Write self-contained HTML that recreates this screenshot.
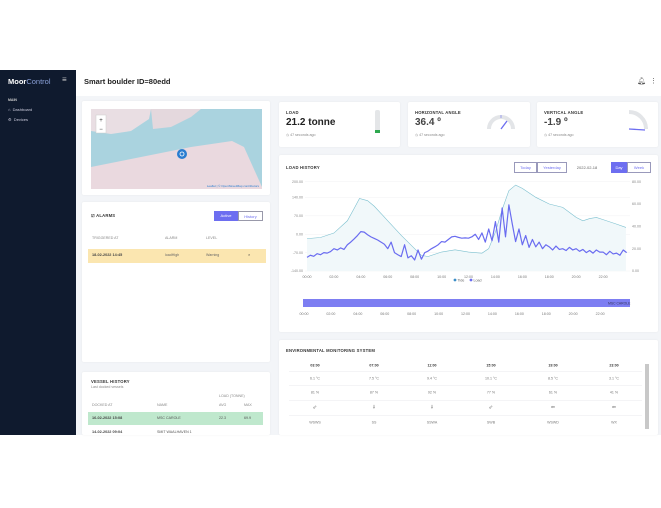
<!DOCTYPE html>
<html><head><meta charset="utf-8"><style>
*{box-sizing:border-box;margin:0;padding:0}
body{width:661px;height:508px;background:#fff;font-family:"Liberation Sans",sans-serif;position:relative;overflow:hidden;color:#222}
.a{position:absolute}
.card{position:absolute;background:#fff;border-radius:2px;box-shadow:0 0 2px rgba(0,0,0,.05)}
.t{position:absolute;font-size:4px;color:#444;white-space:nowrap}
.lbl{font-size:4.2px;font-weight:bold;color:#333;letter-spacing:.2px}
.sm{font-size:3.6px;color:#888}
#chart{z-index:5}
</style></head><body>
<div class="a" style="left:0;top:70px;width:661px;height:365px;background:#f3f5f8"></div>
<div class="a" style="left:0;top:70px;width:76px;height:365px;background:#0f1a2e">
 <div class="t" style="left:8px;top:7px;font-size:7.5px;color:#fff;font-weight:bold">Moor<span style="font-weight:normal;color:#8aa0d8">Control</span></div>
 <div class="t" style="left:62px;top:5px;font-size:8px;color:#ccc">≡</div>
 <div class="t" style="left:8px;top:28px;font-size:3.5px;color:#ccc;font-weight:bold">MAIN</div>
 <div class="t" style="left:8px;top:37px;font-size:4px;color:#ccd">⌂ &nbsp;Dashboard</div>
 <div class="t" style="left:8px;top:47px;font-size:4px;color:#ccd">⚙ &nbsp;Devices</div>
</div>
<div class="a" style="left:76px;top:70px;width:585px;height:26px;background:#fff">
 <div class="t" style="left:8px;top:7px;font-size:7.5px;color:#222;font-weight:bold">Smart boulder ID=80edd</div>
 <div class="t" style="left:561px;top:7px;font-size:7px;color:#555">🔔︎</div>
 <div class="t" style="left:574px;top:7px;font-size:7px;color:#555">⋮</div>
</div>

<div class="card" style="left:82px;top:101px;width:188px;height:94px">
 <svg class="a" style="left:9px;top:8px" width="171" height="80">
  <rect width="171" height="80" fill="#aad3df"/>
  <polygon points="0,0 60,0 58,10 40,22 20,25 0,22" fill="#e9dee3"/>
  <polygon points="60,0 110,0 100,8 80,18 62,20" fill="#e4d8dd"/>
  <polygon points="0,58 40,50 100,38 141,32 153,38 171,78 171,80 0,80" fill="#ead9df"/>
  <rect x="5" y="6" width="10" height="18" fill="#fff" stroke="#ccc" stroke-width=".5"/>
  <text x="10" y="13" font-size="6" text-anchor="middle" fill="#333">+</text>
  <text x="10" y="22" font-size="6" text-anchor="middle" fill="#333">−</text>
  <circle cx="91" cy="45" r="5" fill="#2a7dd0"/><circle cx="91" cy="45" r="2" fill="none" stroke="#fff" stroke-width=".8"/>
  <text x="168" y="78" font-size="3" text-anchor="end" fill="#2a7dd0">Leaflet | © OpenStreetMap contributors</text>
 </svg>
</div>

<div class="card" style="left:82px;top:202px;width:188px;height:160px">
 <div class="t lbl" style="left:9px;top:11px">☑ ALARMS</div>
 <div class="t" style="left:132px;top:9px;width:24px;height:10px;background:#6d6ef0;color:#fff;text-align:center;line-height:10px">Active</div>
 <div class="t" style="left:156px;top:9px;width:25px;height:10px;border:.6px solid #99a;color:#6d6ef0;text-align:center;line-height:9px">History</div>
 <div class="t sm" style="left:10px;top:34px">TRIGGERED AT</div>
 <div class="t sm" style="left:83px;top:34px">ALARM</div>
 <div class="t sm" style="left:124px;top:34px">LEVEL</div>
 <div class="a" style="left:6px;top:47px;width:178px;height:14px;background:#fbe6b0"></div>
 <div class="t" style="left:10px;top:51px;font-weight:bold;font-size:3.8px">18-02-2022 14:45</div>
 <div class="t" style="left:83px;top:51px;font-size:3.6px;color:#666">loadHigh</div>
 <div class="t" style="left:124px;top:51px;font-size:3.6px;color:#666">Warning</div>
 <div class="t" style="left:166px;top:50px;font-size:4px">×</div>
</div>

<div class="card" style="left:82px;top:372px;width:188px;height:63px">
 <div class="t lbl" style="left:9px;top:7px">VESSEL HISTORY</div>
 <div class="t sm" style="left:9px;top:13px">Last docked vessels</div>
 <div class="t sm" style="left:137px;top:22px">LOAD (TONNE)</div>
 <div class="t sm" style="left:10px;top:31px">DOCKED AT</div>
 <div class="t sm" style="left:75px;top:31px">NAME</div>
 <div class="t sm" style="left:137px;top:31px">AVG</div>
 <div class="t sm" style="left:162px;top:31px">MAX</div>
 <div class="a" style="left:6px;top:40px;width:175px;height:13px;background:#bfe8cd"></div>
 <div class="t" style="left:10px;top:44px;font-weight:bold;font-size:3.8px">16-02-2022 15:08</div>
 <div class="t" style="left:75px;top:44px;font-size:3.6px;color:#555">MSC CAROLE</div>
 <div class="t" style="left:137px;top:44px;font-size:3.6px;color:#555">22.3</div>
 <div class="t" style="left:162px;top:44px;font-size:3.6px;color:#555">69.9</div>
 <div class="t" style="left:10px;top:58px;font-weight:bold;font-size:3.8px">14-02-2022 09:04</div>
 <div class="t" style="left:75px;top:58px;font-size:3.6px;color:#555">SMIT WAALHAVEN 1</div>
</div>

<div class="card" style="left:279px;top:102px;width:121px;height:45px">
 <div class="t lbl" style="left:7px;top:8px">LOAD</div>
 <div class="t" style="left:7px;top:15px;font-size:10px;font-weight:bold;color:#222">21.2 tonne</div>
 <div class="t sm" style="left:7px;top:31px">◷ 47 seconds ago</div>
 <div class="a" style="left:96px;top:8px;width:5px;height:23px;background:#e4e6e8;border-radius:2px"><div class="a" style="left:0;bottom:0;width:5px;height:3px;background:#2fa84f"></div></div>
</div>
<div class="card" style="left:408px;top:102px;width:122px;height:45px">
 <div class="t lbl" style="left:7px;top:8px">HORIZONTAL ANGLE</div>
 <div class="t" style="left:7px;top:15px;font-size:10px;font-weight:bold">36.4 º</div>
 <div class="t sm" style="left:7px;top:31px">◷ 47 seconds ago</div>
 <svg class="a" style="left:78px;top:10px" width="30" height="20"><path d="M3,17 A12,12 0 0 1 27,17" fill="none" stroke="#e3e5e8" stroke-width="4"/><line x1="15" y1="17" x2="21" y2="9" stroke="#6d6ef0" stroke-width="1.3"/><line x1="15" y1="3" x2="15" y2="6" stroke="#6d6ef0" stroke-width=".6"/></svg>
</div>
<div class="card" style="left:537px;top:102px;width:121px;height:45px">
 <div class="t lbl" style="left:7px;top:8px">VERTICAL ANGLE</div>
 <div class="t" style="left:7px;top:15px;font-size:10px;font-weight:bold">-1.9 º</div>
 <div class="t sm" style="left:7px;top:31px">◷ 47 seconds ago</div>
 <svg class="a" style="left:88px;top:6px" width="28" height="28"><path d="M4,4 A17,17 0 0 1 21,21" fill="none" stroke="#e3e5e8" stroke-width="4"/><line x1="4" y1="21" x2="20" y2="22" stroke="#6d6ef0" stroke-width="1.3"/></svg>
</div>

<div class="card" style="left:279px;top:155px;width:379px;height:177px">
 <div class="t lbl" style="left:7px;top:10px">LOAD HISTORY</div>
 <div class="t" style="left:235px;top:7px;width:23px;height:11px;border:.6px solid #99b;color:#6d6ef0;text-align:center;line-height:10px">Today</div>
 <div class="t" style="left:258px;top:7px;width:30px;height:11px;border:.6px solid #99b;color:#6d6ef0;text-align:center;line-height:10px">Yesterday</div>
 <div class="t" style="left:291px;top:7px;width:34px;height:11px;color:#666;text-align:center;line-height:11px">2022-02-18</div>
 <div class="t" style="left:332px;top:7px;width:16px;height:11px;background:#6d6ef0;color:#fff;text-align:center;line-height:11px">Day</div>
 <div class="t" style="left:348px;top:7px;width:24px;height:11px;border:.6px solid #99b;color:#6d6ef0;text-align:center;line-height:10px">Week</div>
</div>

<div class="card" style="left:279px;top:340px;width:379px;height:95px">
 <div class="t lbl" style="left:7px;top:8px">ENVIRONMENTAL MONITORING SYSTEM</div>
 <div class="a" style="left:366px;top:24px;width:4px;height:65px;background:#c8c8c8"></div>
</div>

<svg class="a" id="chart" style="left:0;top:0" width="661" height="508"></svg>

<script>
const ns="http://www.w3.org/2000/svg";
const svg=document.getElementById('chart');
function mk(tag,attrs,parent){const e=document.createElementNS(ns,tag);for(const k in attrs)e.setAttribute(k,attrs[k]);(parent||svg).appendChild(e);return e;}

const leftTicks=[200,140,70,0,-70,-140];
const rightTicks=[80,60,40,20,0];
const xTickLabels=["00:00","02:00","04:00","06:00","08:00","10:00","12:00","14:00","16:00","18:00","20:00","22:00"];
const tideHours=[0,1,2,3,3.5,3.9,4.5,5,6,7,8,8.5,9,10,11,12,13,13.5,14,14.5,15,15.5,16,17,18,19,20,20.5,21,21.5,22,23,23.7];
const tideValues=[29,30,34,45,56,65,63,58,45,32,20,14,13,17,19,17,16,20,35,55,72,77,74,66,60,57,48,45,47,48,46,42,39];
const loadValues=[-88,-80,-84,-74,-78,-70,-72,-66,-55,-60,-52,-58,-40,-30,-18,-5,10,8,-2,-10,-16,-22,-30,-38,-55,-30,-70,-78,-85,-40,-90,-82,-98,-60,-95,-70,-64,-55,-48,-40,-28,-30,-20,-10,-8,-12,-15,-14,-15,-10,0,-20,5,-30,20,-25,48,-30,100,-10,112,40,-28,20,-40,-5,-50,-20,-48,-30,-55,-40,-48,-60,-45,-58,-55,-62,-50,-60,-55,-65,-58,-70,-62,-72,-60,-68,-68,-78,-65,-75,-72,-80,-60,-70];
const loadStepHours=0.25;

const X0=307,X1=630,YT=181.7,YB=271;
const xs=h=>X0+(X1-X0)*h/24;
const yl=v=>YT+(200-v)*(YB-YT)/340;
const yr=v=>YB-v*(YB-YT)/80;

leftTicks.forEach(v=>{
 const g=mk('line',{x1:305,x2:630,y1:yl(v),y2:yl(v),stroke:'#f0f1f3','stroke-width':.5});
 
 const t=mk('text',{x:303,y:yl(v)+1.2,'font-size':3.6,fill:'#888','text-anchor':'end','font-family':'Liberation Sans'});t.textContent=v.toFixed(2);
 
});
rightTicks.forEach(v=>{
 const t=mk('text',{x:632,y:yr(v)+1.2,'font-size':3.6,fill:'#888','font-family':'Liberation Sans'});t.textContent=v.toFixed(2);
 
});
xTickLabels.forEach((s,i)=>{
 const t=mk('text',{x:xs(i*2),y:278,'font-size':3.6,fill:'#777','text-anchor':'middle','font-family':'Liberation Sans'});t.textContent=s;
 
 const t2=mk('text',{x:xs(i*2)-3,y:315,'font-size':3.6,fill:'#777','text-anchor':'middle','font-family':'Liberation Sans'});t2.textContent=s;
 
});
let tp=tideHours.map((h,i)=>xs(h)+','+yr(tideValues[i])).join(' ');
const area=mk('polygon',{points:tp+' '+xs(tideHours[tideHours.length-1])+','+YB+' '+xs(0)+','+YB,fill:'#f1f8fa'});

const tl=mk('polyline',{points:tp,fill:'none',stroke:'#7cc0cf','stroke-width':.6});

const lp=loadValues.map((v,i)=>xs(i*loadStepHours)+','+yl(v)).join(' ');
const ll=mk('polyline',{points:lp,fill:'none',stroke:'#6a6cf0','stroke-width':1.2,'stroke-linejoin':'round'});

[['Tide','#3c8ec8',455],['Load','#6a6cf0',471]].forEach(([n,c,x])=>{
 const d=mk('circle',{cx:x,cy:280,r:1.4,fill:c});
 const t=mk('text',{x:x+2.5,y:281.3,'font-size':3.6,fill:'#666','font-family':'Liberation Sans'});t.textContent=n;
 
});
const rb=mk('rect',{x:303,y:299,width:327,height:8,fill:'#7d7ef2'});

const rt=mk('text',{x:608,y:304.5,'font-size':3.4,fill:'#335','font-family':'Liberation Sans'});rt.textContent='MSC CAROLE';


const envTimes=["03:00","07:00","11:00","15:00","19:00","23:00"];
const envTemps=["6.1 °C","7.5 °C","9.4 °C","10.1 °C","8.5 °C","3.1 °C"];
const envHum=["81 %","87 %","92 %","77 %","61 %","41 %"];
const envArrows=["⇙","⇓","⇓","⇙","⇚","⇚"];
const envDirs=["WSWS","SS","SSWA","SWB","WSWD","WX"];
const colX=[315,374,432,491,553,614];
const rowsY=[[365,envTimes,true],[378,envTemps],[392,envHum],[407,envArrows],[422,envDirs]];
rowsY.forEach(([y,arr,b],r)=>{
 if(r>0){const l=mk('line',{x1:289,x2:642,y1:y-6.5,y2:y-6.5,stroke:'#e8eaee','stroke-width':.5});}
 arr.forEach((s,i)=>{
  const t=mk('text',{x:colX[i],y:y+1.3,'font-size':r==3?5:3.6,fill:b?'#333':'#777','font-weight':b?'bold':'normal','text-anchor':'middle','font-family':'Liberation Sans, DejaVu Sans'});t.textContent=s;
  
 });
});
</script>
</body></html>
